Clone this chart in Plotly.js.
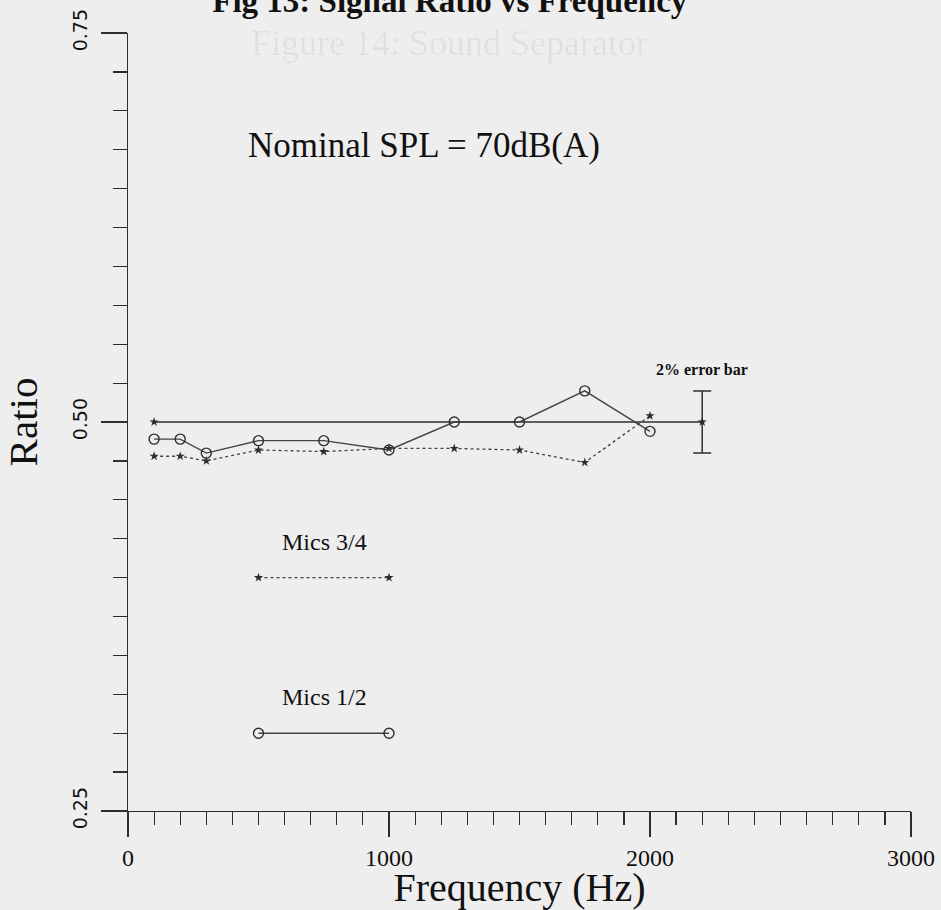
<!DOCTYPE html>
<html>
<head>
<meta charset="utf-8">
<script src="https://cdn.plot.ly/plotly-3.0.1.min.js"></script>
<style>
  html, body { margin: 0; padding: 0; background: #eeeeee; }
  #chart { width: 941px; height: 910px; }
</style>
</head>
<body>
<div id="chart"></div>
<script>
// Frequencies (Hz)
const freq = [100, 200, 300, 500, 750, 1000, 1250, 1500, 1750, 2000];
// Mics 1/2 ratio (circles, solid line)
const mics12 = [0.489, 0.489, 0.480, 0.488, 0.488, 0.482, 0.500, 0.500, 0.520, 0.494];
// Mics 3/4 ratio (stars, dotted line)
const mics34 = [0.478, 0.478, 0.475, 0.482, 0.481, 0.483, 0.483, 0.482, 0.474, 0.504];
// Nominal reference line
const refFreq = [100, 2200];
const refRatio = [0.5, 0.5];
// 2% error bar
const errFreq = [2200];
const errRatio = [0.5];
const errHalf = [0.02];
// In-plot legend samples
const keyFreq = [500, 1000];
const key34 = [0.40, 0.40];
const key12 = [0.30, 0.30];
// Axis ticks
const xTicks = [0, 1000, 2000, 3000];
const yTicks = [0.25, 0.50, 0.75];
const yTickText = ['0.25', '0.50', '0.75'];

const ink = '#2e2e2e';
const serif = 'Liberation Serif, Times New Roman, serif';

const traces = [
  {
    x: refFreq, y: refRatio, mode: 'lines+markers', type: 'scatter',
    line: { color: ink, width: 1.4 },
    marker: { symbol: 'star', size: 7, color: ink },
    hoverinfo: 'skip', showlegend: false
  },
  {
    x: errFreq, y: errRatio, mode: 'markers', type: 'scatter',
    marker: { symbol: 'circle', size: 4, color: ink },
    error_y: { type: 'data', array: errHalf, visible: true, color: ink, thickness: 1.5, width: 9 },
    showlegend: false
  },
  {
    x: freq, y: mics34, mode: 'lines+markers', type: 'scatter', name: 'Mics 3/4',
    line: { color: '#444', width: 1.3, dash: 'dot' },
    marker: { symbol: 'star', size: 7, color: ink },
    showlegend: false
  },
  {
    x: freq, y: mics12, mode: 'lines+markers', type: 'scatter', name: 'Mics 1/2',
    line: { color: '#444', width: 1.4 },
    marker: { symbol: 'circle-open', size: 10, color: ink, line: { width: 1.4, color: ink } },
    showlegend: false
  },
  {
    x: keyFreq, y: key34, mode: 'lines+markers', type: 'scatter',
    line: { color: '#444', width: 1.3, dash: 'dot' },
    marker: { symbol: 'star', size: 7, color: ink },
    showlegend: false
  },
  {
    x: keyFreq, y: key12, mode: 'lines+markers', type: 'scatter',
    line: { color: '#444', width: 1.4 },
    marker: { symbol: 'circle-open', size: 10, color: ink, line: { width: 1.4, color: ink } },
    showlegend: false
  }
];

const layout = {
  width: 941, height: 910,
  margin: { l: 128, r: 30, t: 33, b: 99 },
  paper_bgcolor: '#eeeeee',
  plot_bgcolor: '#eeeeee',
  showlegend: false,
  title: {
    text: '<b>Fig 13: Signal Ratio vs Frequency</b>',
    font: { family: serif, size: 33, color: '#111' },
    x: 0.478, xanchor: 'center', xref: 'container',
    y: 1.0, yanchor: 'middle', yref: 'container'
  },
  xaxis: {
    range: [0, 3000],
    tickmode: 'array', tickvals: xTicks,
    ticks: 'outside', ticklen: 25, tickwidth: 1.3, tickcolor: ink,
    minor: { tickmode: 'linear', tick0: 0, dtick: 100, ticks: 'outside', ticklen: 13, tickwidth: 1.2, tickcolor: ink, showgrid: false },
    showline: true, linecolor: ink, linewidth: 1.4,
    showgrid: false, zeroline: false,
    tickfont: { family: serif, size: 24, color: '#111' },
    title: { text: 'Frequency (Hz)', font: { family: serif, size: 40, color: '#111' }, standoff: 13 }
  },
  yaxis: {
    range: [0.25, 0.75],
    tickmode: 'array', tickvals: yTicks, ticktext: yTickText,
    tickangle: -90,
    ticks: 'outside', ticklen: 26, tickwidth: 1.3, tickcolor: ink,
    ticklabelstandoff: 6,
    minor: { tickmode: 'linear', tick0: 0.25, dtick: 0.025, ticks: 'outside', ticklen: 14, tickwidth: 1.2, tickcolor: ink, showgrid: false },
    showline: true, linecolor: ink, linewidth: 1.4,
    showgrid: false, zeroline: false,
    tickfont: { family: 'DejaVu Sans, Verdana, sans-serif', size: 19, color: '#111' },
    title: { text: 'Ratio', font: { family: serif, size: 41, color: '#111' }, standoff: 28 }
  },
  annotations: [
    { x: 1135, y: 0.678, xref: 'x', yref: 'y', text: 'Nominal SPL = 70dB(A)', showarrow: false,
      font: { family: serif, size: 35, color: '#111' } },
    { x: 2200, y: 0.5335, xref: 'x', yref: 'y', text: '<b>2% error bar</b>', showarrow: false,
      font: { family: serif, size: 16, color: '#111' } },
    { x: 751, y: 0.4228, xref: 'x', yref: 'y', text: 'Mics 3/4', showarrow: false,
      font: { family: serif, size: 24, color: '#111' } },
    { x: 751, y: 0.323, xref: 'x', yref: 'y', text: 'Mics 1/2', showarrow: false,
      font: { family: serif, size: 24, color: '#111' } },
    { x: 449, y: 43, xref: 'paper', yref: 'paper', xanchor: 'center', yanchor: 'middle',
      text: 'Figure 14: Sound Separator', showarrow: false,
      font: { family: serif, size: 36, color: 'rgba(0,0,0,0.06)' }, visible: false }
  ]
};

// convert bleed-through annotation from pixel position to paper coords
(function () {
  const plotW = 941 - 128 - 30, plotH = 910 - 33 - 99;
  const a = layout.annotations[4];
  a.x = (a.x - 128) / plotW;
  a.y = 1 - (a.y - 33) / plotH;
  a.visible = true;
})();

Plotly.newPlot('chart', traces, layout, { displayModeBar: false, staticPlot: true });
</script>
</body>
</html>
